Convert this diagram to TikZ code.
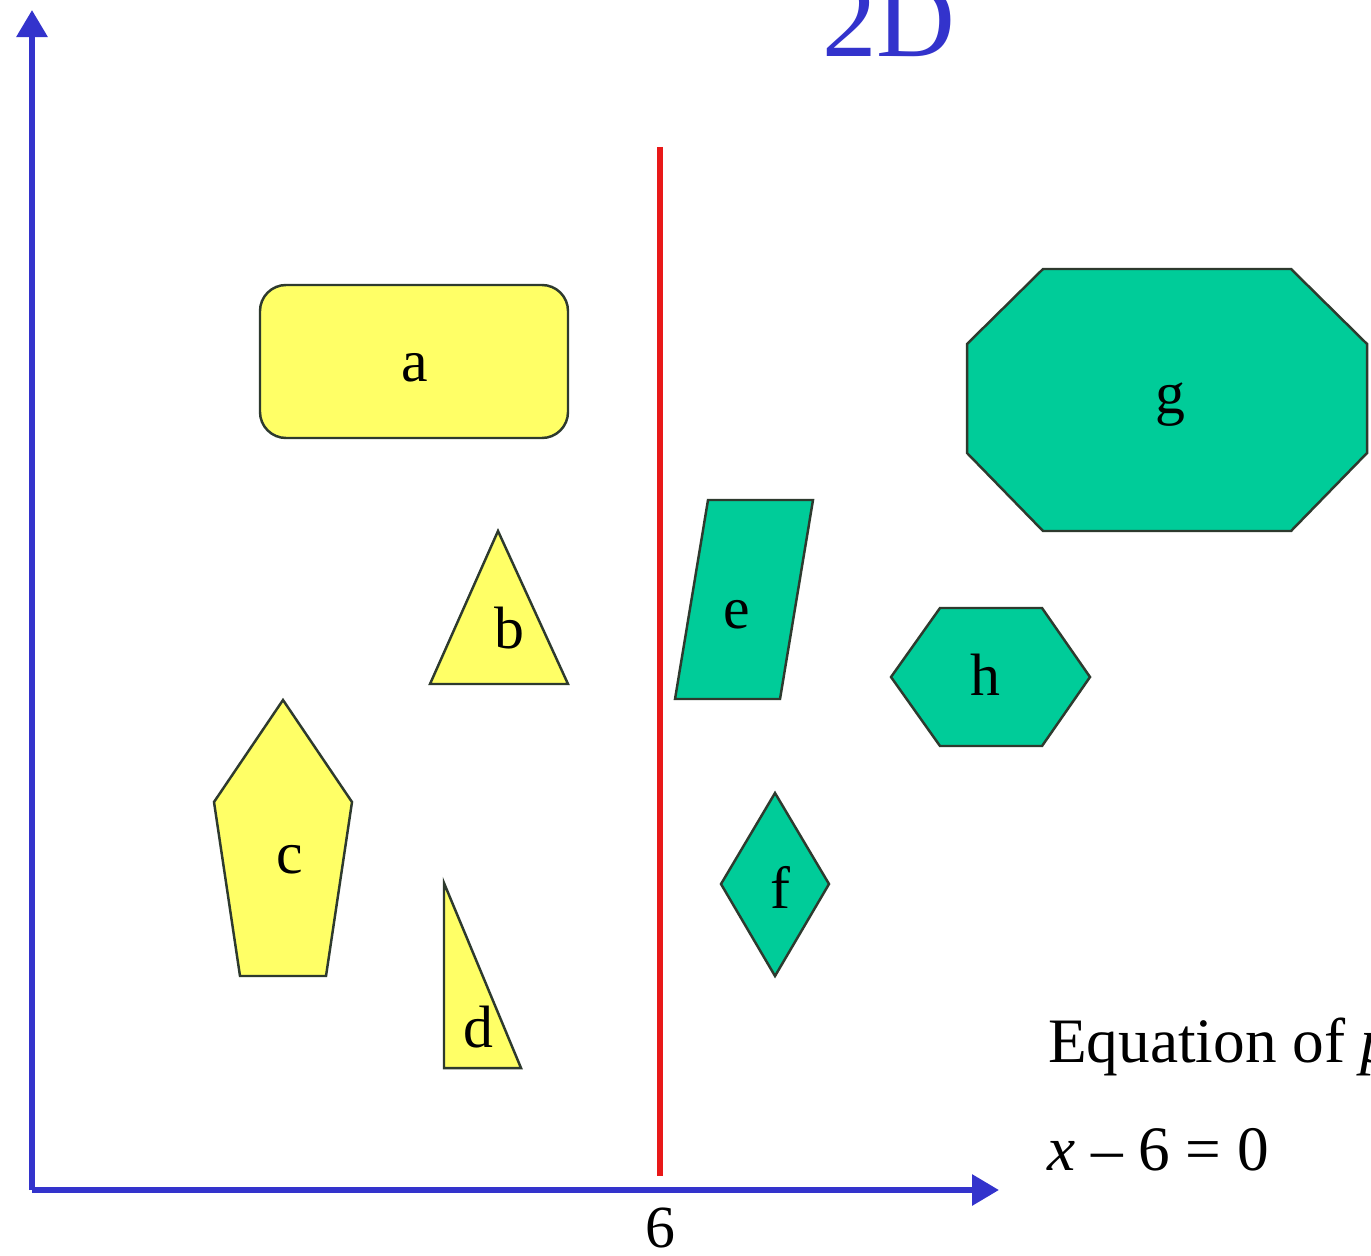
\documentclass[tikz,border=0pt]{standalone}
\usepackage{fontspec}
\setmainfont{Liberation Serif}
\usetikzlibrary{arrows.meta, positioning}
\definecolor{cblue}{HTML}{3333CC}
\definecolor{cred}{HTML}{E81818}
\definecolor{cyellow}{HTML}{FFFF66}
\definecolor{cgreen}{HTML}{00CC99}
\definecolor{cedge}{HTML}{2E3A2E}
\tikzset{
  every picture/.style={line width=0.6pt},
  shapebox/.style={draw=cedge, fill=#1, line width=0.7pt, line join=miter},
  shapebox/.default=cyellow,
  axis/.style={-{Triangle[length=0.27cm, width=0.3cm]}, draw=cblue, line width=0.06cm},
  tag/.style={font=\fontsize{17}{20}\selectfont, inner sep=0pt},
  note/.style={font=\fontsize{18}{22}\selectfont, inner sep=0pt, anchor=base west},
}
\begin{document}
\begin{tikzpicture}[x=0.01cm, y=-0.01cm]
  \clip (0,0) rectangle (1371,1255);
  \fill[white] (0,0) rectangle (1371,1255);

  % axes
  \coordinate (origin) at (32,1190);
  \coordinate (ytip) at (32,10);
  \coordinate (xtip) at (999,1190);
  \draw[axis] (origin) -- (ytip);
  \draw[axis] (origin) -- (xtip);

  % separating line x = 6
  \coordinate (sepTop) at (660,147);
  \coordinate (sepBot) at (660,1176);
  \draw[draw=cred, line width=0.055cm] (sepTop) -- (sepBot);
  \node[tag] (six) at (660,1228) {6};

  % title
  \node[font=\fontsize{31}{36}\selectfont, text=cblue, inner sep=0pt, anchor=base] (title) at (889,57) {2D};

  % yellow side
  \draw[shapebox, rounded corners=0.26cm] (260,285) rectangle (568,438);
  \node[tag] (a) at (415,368) {a};
  \draw[shapebox] (498,531) -- (568,684) -- (430,684) -- cycle;
  \node[tag] (b) at (509,628) {b};
  \draw[shapebox] (283,700) -- (352,802) -- (326,976) -- (240,976) -- (214,802) -- cycle;
  \node[tag] (c) at (290,860) {c};
  \draw[shapebox] (444,883) -- (521,1068) -- (444,1068) -- cycle;
  \node[tag] (d) at (478,1027) {d};

  % green side
  \draw[shapebox=cgreen] (708,500) -- (813,500) -- (780,699) -- (675,699) -- cycle;
  \node[tag] (e) at (737,615) {e};
  \draw[shapebox=cgreen] (775,793) -- (829,884) -- (775,976) -- (721,884) -- cycle;
  \node[tag] (f) at (780,887) {f};
  \draw[shapebox=cgreen] (1043,269) -- (1291,269) -- (1367,344) -- (1367,453) -- (1291,531) -- (1043,531) -- (967,453) -- (967,344) -- cycle;
  \node[tag] (g) at (1170,405) {g};
  \draw[shapebox=cgreen] (940,608) -- (1042,608) -- (1090,677) -- (1042,746) -- (940,746) -- (891,677) -- cycle;
  \node[tag] (h) at (985,675) {h};

  % equation
  \node[note] (eqname) at (1047,1062) {Equation of \textit{p}};
  \node[note] (eq) at (1046,1170) {\textit{x} – 6 = 0};
\end{tikzpicture}
\end{document}
